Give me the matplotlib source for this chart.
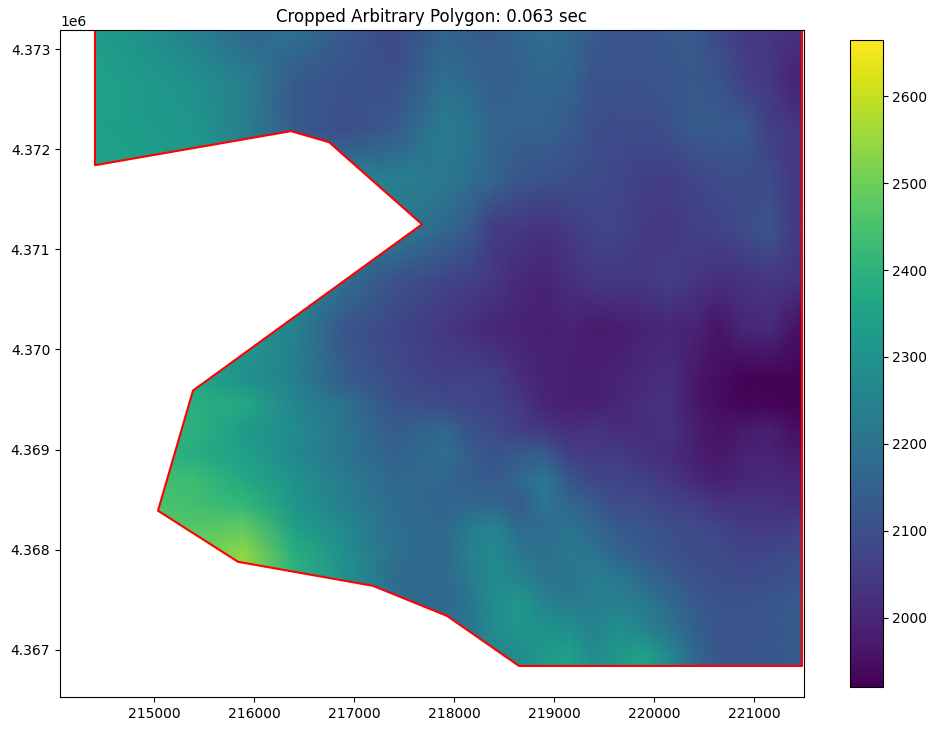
import numpy as np
import matplotlib
matplotlib.use('Agg')
import matplotlib.pyplot as plt
from matplotlib.patches import Polygon

# polygon outline
poly_x = [214410, 214410, 216370, 216750, 217680, 215390, 215040, 215840,
          217190, 217930, 218650, 221480, 221490]
poly_y = [4373200, 4371840, 4372180, 4372070, 4371250, 4369590, 4368390, 4367880,
          4367640, 4367340, 4366840, 4366840, 4373200]

# elevation estimates, finer spacing where the ridges are
easting = [214400, 214900, 215400, 215900, 216400, 216900, 217400, 217900,
           218150, 218400, 218650, 218900, 219150, 219400, 219650, 219900,
           220150, 220400, 220650, 220900, 221150, 221400, 221500]
northing = [4373200, 4372700, 4372200, 4371700, 4371200, 4370700, 4370200, 4369700,
            4369450, 4369200, 4368950, 4368700, 4368450, 4368200, 4367950, 4367700,
            4367450, 4367200, 4366950, 4366700]
elev = np.array([
    [2330, 2300, 2240, 2170, 2200, 2130, 2085, 2150, 2130, 2135, 2170, 2195, 2170, 2130, 2120, 2110, 2125, 2135, 2085, 2050, 2040, 2030, 2040],
    [2350, 2320, 2290, 2240, 2130, 2110, 2100, 2190, 2170, 2140, 2150, 2170, 2160, 2110, 2110, 2110, 2120, 2125, 2110, 2060, 2040, 1990, 1990],
    [2340, 2330, 2310, 2240, 2130, 2095, 2130, 2230, 2210, 2160, 2150, 2150, 2130, 2100, 2090, 2090, 2105, 2130, 2135, 2130, 2060, 2040, 2040],
    [2350, 2340, 2320, 2280, 2250, 2240, 2240, 2220, 2190, 2160, 2120, 2110, 2100, 2090, 2080, 2060, 2055, 2075, 2090, 2090, 2090, 2040, 2040],
    [2350, 2340, 2320, 2300, 2280, 2260, 2240, 2170, 2130, 2050, 2040, 2025, 2050, 2070, 2070, 2050, 2040, 2060, 2070, 2090, 2120, 2050, 2040],
    [2350, 2340, 2320, 2300, 2280, 2190, 2110, 2075, 2060, 2040, 2010, 1995, 2020, 2045, 2040, 2045, 2060, 2040, 2020, 2030, 2040, 2035, 2030],
    [2380, 2360, 2340, 2320, 2250, 2120, 2075, 2040, 2020, 2000, 1990, 1985, 1990, 1975, 1980, 1990, 2000, 1990, 1960, 2000, 2010, 1960, 1950],
    [2400, 2380, 2360, 2300, 2240, 2140, 2090, 2060, 2070, 2060, 2020, 1995, 1985, 1985, 1995, 2010, 2020, 1970, 1945, 1925, 1925, 1925, 1925],
    [2410, 2400, 2390, 2370, 2260, 2200, 2110, 2090, 2080, 2070, 2040, 2000, 1985, 1985, 2000, 2020, 2025, 1970, 1945, 1930, 1930, 1925, 1925],
    [2420, 2410, 2400, 2330, 2280, 2210, 2130, 2170, 2110, 2090, 2060, 2040, 2020, 2030, 2015, 2015, 2025, 1985, 1955, 1970, 1985, 1950, 1950],
    [2420, 2410, 2380, 2340, 2270, 2210, 2150, 2190, 2140, 2110, 2130, 2140, 2060, 2050, 2050, 2025, 2015, 1985, 1965, 1990, 1995, 1975, 1975],
    [2450, 2440, 2430, 2370, 2300, 2230, 2170, 2170, 2140, 2130, 2170, 2220, 2120, 2080, 2075, 2060, 2040, 2010, 1985, 2000, 2010, 2000, 2000],
    [2450, 2450, 2440, 2410, 2310, 2240, 2180, 2160, 2170, 2170, 2130, 2210, 2170, 2130, 2090, 2090, 2070, 2060, 2030, 2030, 2030, 2020, 2020],
    [2470, 2470, 2470, 2490, 2350, 2270, 2190, 2170, 2230, 2260, 2180, 2180, 2210, 2170, 2130, 2120, 2100, 2090, 2080, 2050, 2050, 2060, 2060],
    [2490, 2490, 2490, 2540, 2390, 2290, 2190, 2170, 2240, 2270, 2220, 2190, 2220, 2210, 2160, 2130, 2110, 2090, 2090, 2075, 2080, 2090, 2090],
    [2500, 2500, 2530, 2540, 2400, 2300, 2180, 2170, 2220, 2280, 2260, 2210, 2200, 2240, 2220, 2180, 2140, 2110, 2100, 2090, 2100, 2110, 2110],
    [2500, 2500, 2500, 2500, 2400, 2300, 2200, 2170, 2210, 2280, 2320, 2260, 2230, 2240, 2250, 2220, 2180, 2130, 2110, 2110, 2120, 2130, 2130],
    [2500, 2500, 2500, 2500, 2400, 2300, 2200, 2180, 2210, 2280, 2310, 2300, 2290, 2250, 2290, 2260, 2210, 2150, 2110, 2110, 2120, 2130, 2130],
    [2500, 2500, 2500, 2500, 2400, 2300, 2200, 2200, 2220, 2250, 2280, 2320, 2340, 2280, 2320, 2340, 2270, 2170, 2120, 2120, 2120, 2130, 2130],
    [2500, 2500, 2500, 2500, 2400, 2300, 2200, 2200, 2220, 2250, 2280, 2320, 2350, 2290, 2320, 2350, 2290, 2180, 2130, 2120, 2120, 2130, 2130],
])

fig = plt.figure(figsize=(9.37, 7.31), dpi=100)
ax = fig.add_axes([60 / 937, 34 / 731, 744 / 937, 667 / 731])
cax = fig.add_axes([850.5 / 937, 44 / 731, 32 / 937, 647 / 731])

mesh = ax.pcolormesh(easting, northing, elev, cmap='viridis', vmin=1920, vmax=2665, shading='gouraud')
outline = Polygon(np.column_stack([poly_x, poly_y]), closed=True, transform=ax.transData)
mesh.set_clip_path(outline)
ax.plot(poly_x[:-1] + [221480], poly_y[:-1] + [4373200], color='red', linewidth=1.5)

ax.set_xlim(214060, 221500)
ax.set_ylim(4366530, 4373190)
ax.set_title('Cropped Arbitrary Polygon: 0.063 sec')
fig.colorbar(mesh, cax=cax)

plt.savefig('out.png', dpi=100)
